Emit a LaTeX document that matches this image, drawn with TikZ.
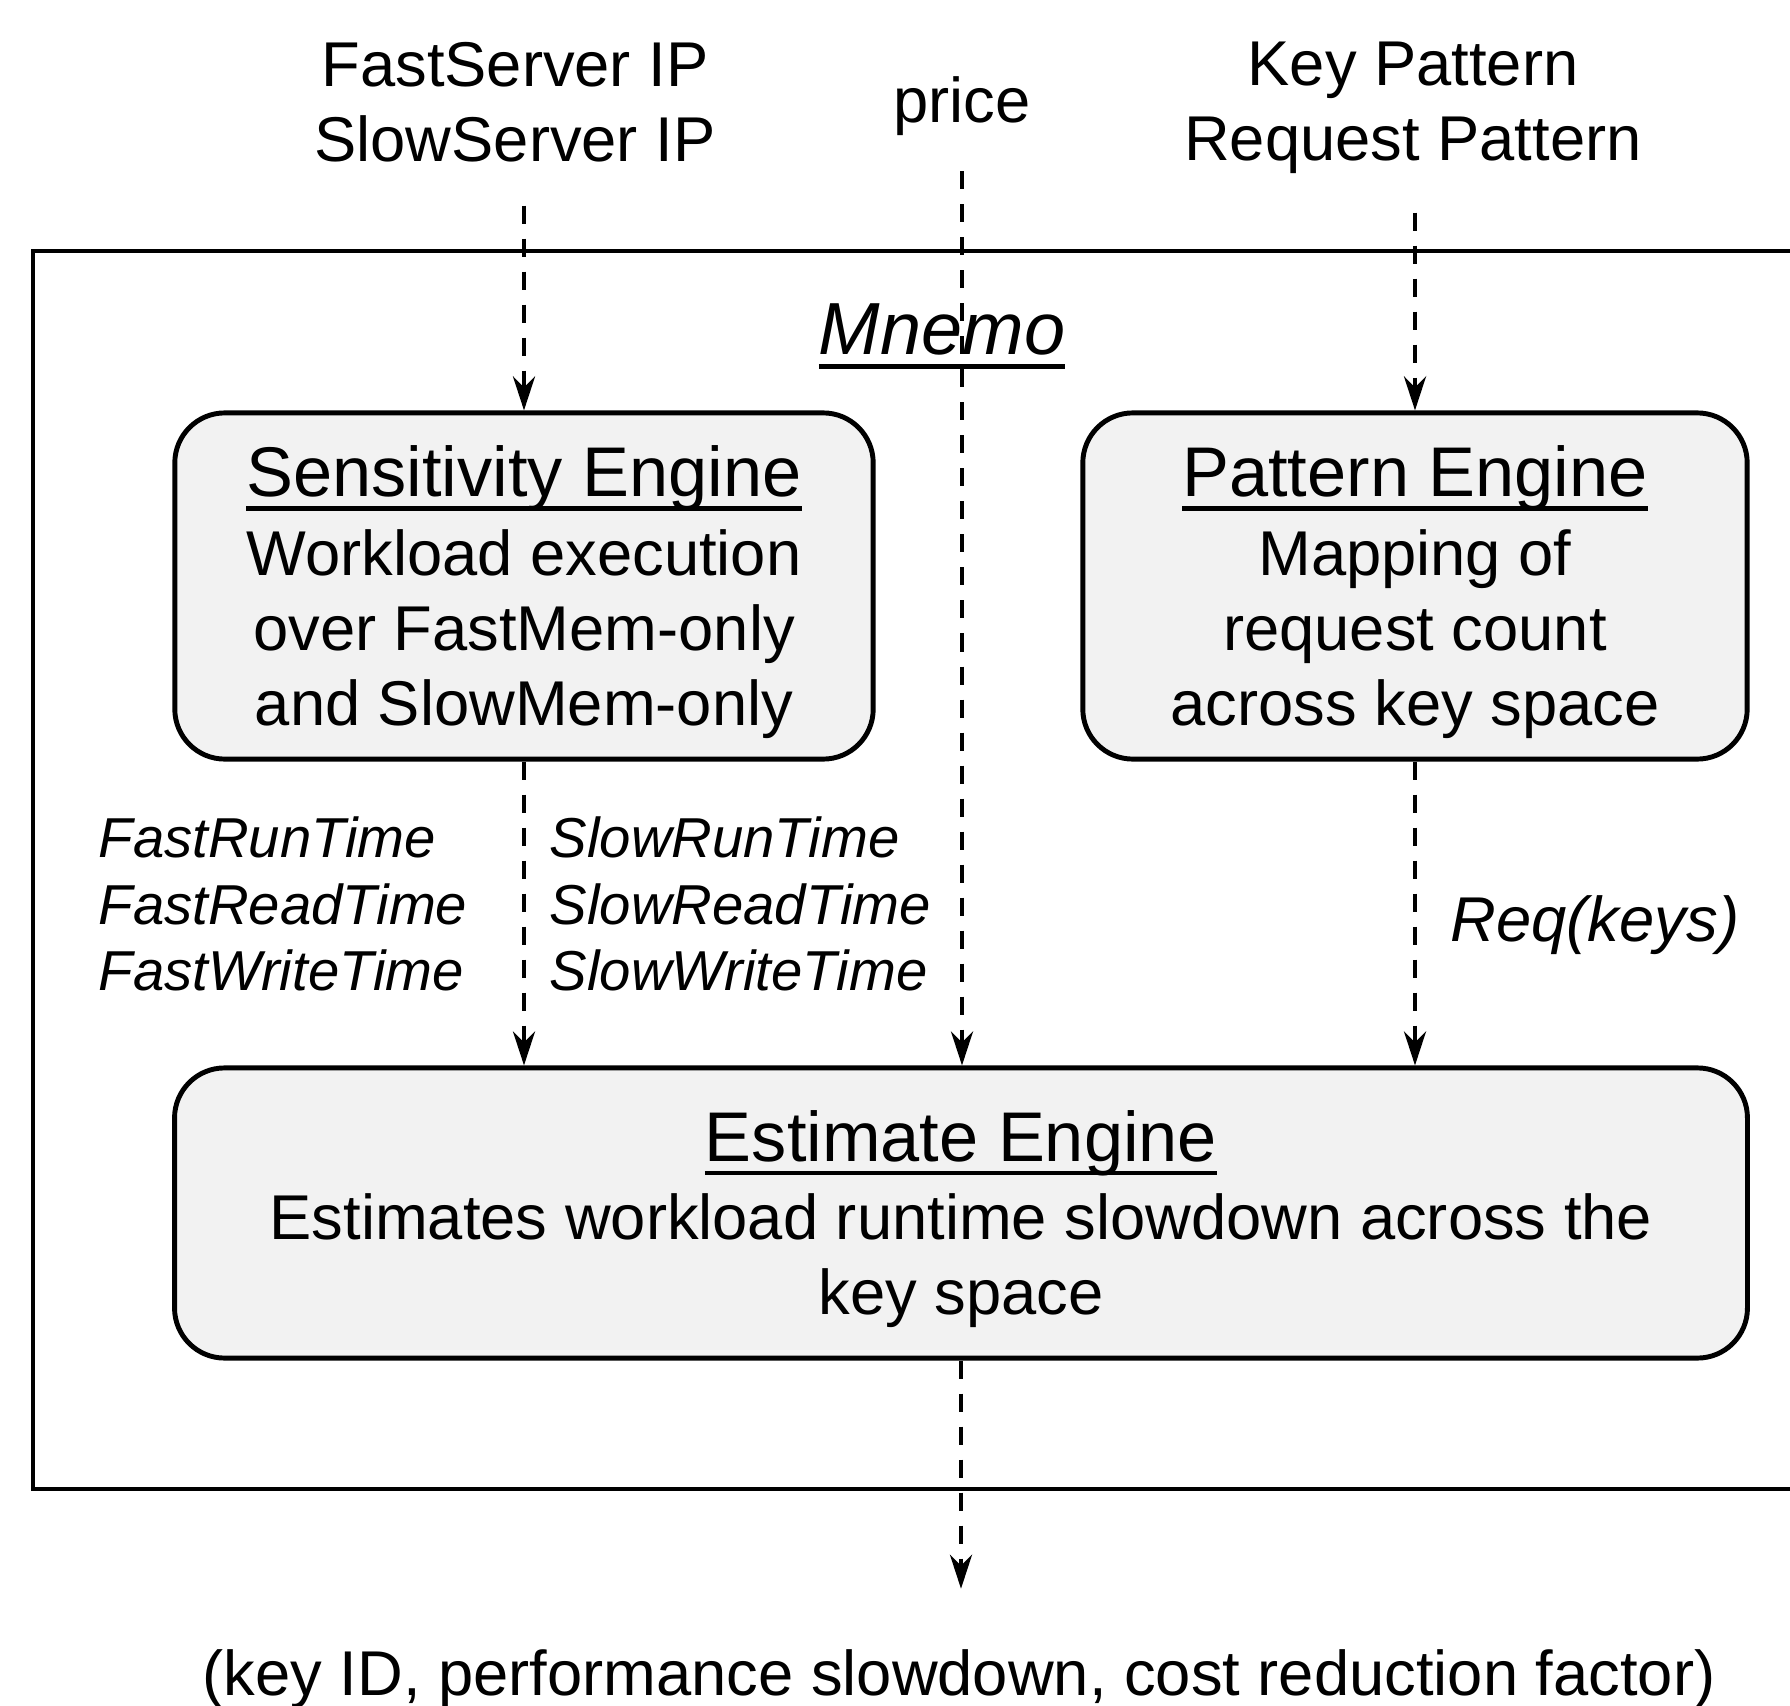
\documentclass[tikz,border=0pt]{standalone}
\usepackage{fontspec}
\setmainfont{Liberation Sans}
\usetikzlibrary{arrows.meta, positioning}

% underline close to the baseline
\newcommand{\undl}[1]{\leavevmode\setbox0\hbox{#1}\rlap{\rule[-0.2em]{\wd0}{0.07em}}\box0}
% engine title line
\newcommand{\enginetitle}[1]{\rule{0pt}{18pt}{\fontsize{20}{24}\selectfont\undl{#1}}}

\begin{document}
\begin{tikzpicture}[
    x=0.01cm, y=-0.01cm,
    font=\fontsize{18}{21.3}\selectfont,
    engine/.style={draw=black, line width=1.4pt, rounded corners=0.5cm, fill=black!5, align=center, inner sep=0pt},
    tag/.style={align=center, inner sep=0pt},
    times/.style={font=\fontsize{16}{19}\selectfont\itshape, align=left, anchor=west, inner sep=0pt},
    flow/.style={-{Stealth[length=3.4mm, width=2.2mm]}, line width=1.3pt, dash pattern=on 1.8mm off 1.5mm}
]
   \useasboundingbox (0,0) rectangle (1790,1706);

   % Mnemo frame
   \draw[line width=1.3pt] (33,251) rectangle (1830,1489);
   \node[tag, font=\fontsize{21}{25}\selectfont\itshape] (mnemo) at (942,336) {\undl{Mnemo}};

   % Inputs
   \node[tag] (srv) at (515,102) {FastServer IP\\SlowServer IP};
   \node[tag] (price) at (962,106) {price};
   \node[tag] (keys) at (1413,108) {Key Pattern\\Request Pattern};

   % Engines
   \node[engine, minimum width=6.98cm, minimum height=3.46cm] (sens) at (524,586)
      {\enginetitle{Sensitivity Engine}\\[1pt]
       Workload execution\\over FastMem-only\\and SlowMem-only};
   \node[engine, minimum width=6.64cm, minimum height=3.46cm] (patt) at (1415,586)
      {\enginetitle{Pattern Engine}\\[1pt]
       Mapping of\\request count\\across key space};
   \node[engine, minimum width=15.72cm, minimum height=2.9cm] (est) at (961,1213)
      {\enginetitle{Estimate Engine}\\[1pt]
       Estimates workload runtime slowdown across the\\key space};

   % Output
   \node[tag] (out) at (959,1679) {(key ID, performance slowdown, cost reduction factor)};

   % Measured times
   \node[times] (fast) at (98,904) {FastRunTime\\FastReadTime\\FastWriteTime};
   \node[times] (slow) at (549,904) {SlowRunTime\\SlowReadTime\\SlowWriteTime};
   \node[times, font=\fontsize{18}{21}\selectfont\itshape] (req) at (1450,925) {Req(keys)};

   % Flows
   \draw[flow, shorten <=4.3mm] (sens.north |- srv.south) -- (sens.north);
   \draw[flow, shorten <=3.5mm] (price.south) -- (price.south |- est.north);
   \draw[flow, shorten <=3.8mm] (patt.north |- keys.south) -- (patt.north);
   \draw[flow] (sens.south) -- (sens.south |- est.north);
   \draw[flow] (patt.south) -- (patt.south |- est.north);
   \draw[flow, shorten >=6mm] (est.south) -- (est.south |- out.north);
\end{tikzpicture}
\end{document}
